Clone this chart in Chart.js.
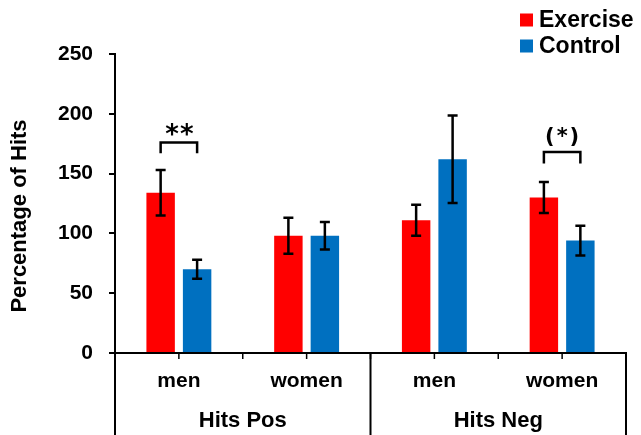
<!DOCTYPE html>
<html>
<head>
<meta charset="utf-8">
<script src="https://cdn.jsdelivr.net/npm/chart.js@4.4.0/dist/chart.umd.min.js"></script>
<style>
body { margin: 0; background: #fff; }
</style>
</head>
<body>
<canvas id="chart" width="641" height="435"></canvas>
<script>
// data
var categories = ['men', 'women', 'men', 'women'];
var groupLabels = ['Hits Pos', 'Hits Neg'];
var exercise = [134, 98, 111, 130];
var exerciseErr = [19, 15, 13, 13];
var control = [70, 98, 162, 94];
var controlErr = [8, 11.5, 36.5, 12.5];
var yTicks = [0, 50, 100, 150, 200, 250];
// significance brackets: category, bracket level, leg end, label
var sigIndex = [0, 3];
var sigTop = [176, 168];
var sigLeg = [167, 158.5];
var sigText = ['**', '(*)'];

var FONT = '"Liberation Sans", Arial, sans-serif';
Chart.defaults.font.family = FONT;

var overlay = {
    id: 'overlay',
    afterDatasetsDraw: function(chart) {
        var ctx = chart.ctx, y = chart.scales.y;
        ctx.save();
        ctx.strokeStyle = '#000';
        ctx.lineWidth = 2.5;

        // error bars
        [exerciseErr, controlErr].forEach(function(errs, d) {
            var vals = chart.data.datasets[d].data;
            chart.getDatasetMeta(d).data.forEach(function(bar, i) {
                var top = y.getPixelForValue(vals[i] + errs[i]);
                var bot = y.getPixelForValue(vals[i] - errs[i]);
                ctx.beginPath();
                ctx.moveTo(bar.x, top); ctx.lineTo(bar.x, bot);
                ctx.moveTo(bar.x - 5, top); ctx.lineTo(bar.x + 5, top);
                ctx.moveTo(bar.x - 5, bot); ctx.lineTo(bar.x + 5, bot);
                ctx.stroke();
            });
        });

        // brackets + stars
        sigIndex.forEach(function(idx, k) {
            var x1 = chart.getDatasetMeta(0).data[idx].x;
            var x2 = chart.getDatasetMeta(1).data[idx].x;
            var yt = y.getPixelForValue(sigTop[k]);
            var yl = y.getPixelForValue(sigLeg[k]);
            ctx.beginPath();
            ctx.moveTo(x1, yl); ctx.lineTo(x1, yt); ctx.lineTo(x2, yt); ctx.lineTo(x2, yl);
            ctx.stroke();
            ctx.fillStyle = '#000';
            ctx.textAlign = 'center';
            ctx.textBaseline = 'alphabetic';
            if (k === 0) {
                ctx.font = 'bold 26px "DejaVu Sans", sans-serif';
                ctx.letterSpacing = '1px';
                ctx.fillText(sigText[k], (x1 + x2) / 2 + 1, yt + 0);
            } else {
                ctx.font = 'bold 21px "DejaVu Sans", sans-serif';
                ctx.letterSpacing = '2px';
                ctx.fillText(sigText[k], (x1 + x2) / 2 + 1, yt - 9);
            }
            ctx.letterSpacing = '0px';
        });
        ctx.restore();
    },
    afterDraw: function(chart) {
        var ctx = chart.ctx, x = chart.scales.x, area = chart.chartArea;
        var H = chart.height;
        ctx.save();
        ctx.strokeStyle = '#000';
        ctx.fillStyle = '#000';

        // small ticks under the x axis at centres and boundaries
        var centers = categories.map(function(c, i) { return x.getPixelForValue(i); });
        var ticks = centers.slice();
        for (var i = 0; i < centers.length - 1; i++) ticks.push((centers[i] + centers[i + 1]) / 2);
        ctx.lineWidth = 1.5;
        ctx.beginPath();
        ticks.forEach(function(t) { ctx.moveTo(t, area.bottom); ctx.lineTo(t, area.bottom + 6); });
        ctx.stroke();

        // group separators
        var mid = (centers[1] + centers[2]) / 2;
        ctx.lineWidth = 2;
        ctx.beginPath();
        [area.left, mid, area.right].forEach(function(sx) { ctx.moveTo(sx, area.bottom); ctx.lineTo(sx, H); });
        ctx.stroke();

        // group labels
        ctx.font = 'bold 22px ' + FONT;
        ctx.textAlign = 'center';
        ctx.textBaseline = 'middle';
        ctx.fillText(groupLabels[0], (area.left + mid) / 2, 421);
        ctx.fillText(groupLabels[1], (mid + area.right) / 2, 421);

        // y title
        ctx.save();
        ctx.translate(20, 216);
        ctx.rotate(-Math.PI / 2);
        ctx.fillText('Percentage of Hits', 0, 0);
        ctx.restore();

        // legend
        ctx.font = 'bold 23px ' + FONT;
        ctx.textAlign = 'left';
        chart.data.datasets.forEach(function(ds, d) {
            var ly = 20 + d * 26;
            ctx.fillStyle = ds.backgroundColor;
            ctx.fillRect(520, ly - 6.5, 13, 13);
            ctx.fillStyle = '#000';
            ctx.fillText(ds.label, 539, ly + 1);
        });
        ctx.restore();
    }
};

new Chart(document.getElementById('chart'), {
    type: 'bar',
    data: {
        labels: categories,
        datasets: [
            { label: 'Exercise', data: exercise, backgroundColor: '#FF0000' },
            { label: 'Control', data: control, backgroundColor: '#0070C0' }
        ]
    },
    options: {
        responsive: false,
        animation: false,
        layout: { padding: { top: 54, right: 15, left: 0, bottom: 0 } },
        datasets: { bar: { categoryPercentage: 0.571, barPercentage: 0.78 } },
        plugins: { legend: { display: false }, tooltip: { enabled: false } },
        scales: {
            x: {
                grid: { display: false, drawTicks: false },
                border: { color: '#000', width: 2 },
                ticks: { color: '#000', font: { size: 21, weight: 'bold' }, padding: 16 },
                afterFit: function(s) { s.height = 82; }
            },
            y: {
                min: 0, max: 250,
                afterBuildTicks: function(s) { s.ticks = yTicks.map(function(v) { return { value: v }; }); },
                grid: { drawOnChartArea: false, tickLength: 6, color: '#000', lineWidth: 2 },
                border: { color: '#000', width: 2 },
                ticks: { color: '#000', font: { size: 21, weight: 'bold' }, padding: 16 },
                afterFit: function(s) { s.width = 115; }
            }
        }
    },
    plugins: [overlay]
});
</script>
</body>
</html>
